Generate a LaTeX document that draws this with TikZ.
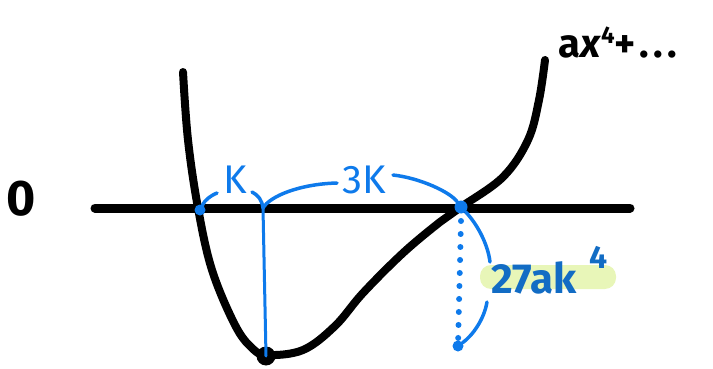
\documentclass[tikz,border=0pt]{standalone}
\usepackage{fontspec}
\setmainfont{Fira Sans}
\definecolor{pen}{RGB}{14,122,235}
\definecolor{pendark}{RGB}{18,108,196}
\definecolor{hilite}{RGB}{232,246,184}
\begin{document}
\begin{tikzpicture}[x=1pt,y=-1pt,
  ink/.style={line width=8pt,line cap=round,line join=round,black},
  blueline/.style={line width=3.5pt,line cap=round,pen},
  bluedot/.style={circle,fill=pen,inner sep=0pt,minimum size=#1},
  lbl/.style={inner sep=0pt,text=pen,font=\fontsize{40}{40}\selectfont}]
\useasboundingbox (0,0) rectangle (713,369);
% axis
\coordinate (axL) at (95,208);
\coordinate (axR) at (630,208);
\draw[ink,line width=9pt] (axL) -- (axR);
\node[inner sep=0pt,font=\fontsize{50}{50}\selectfont\bfseries] (zero) at (21,199) {0};
% curve
\draw[ink] plot[smooth,tension=0.6] coordinates {(183,72) (188,140) (198,208) (212,270) (235,325) (252,348) (267,355) (303,350) (335,326) (363,293) (403,253) (440,222) (461,207) (503,177) (528,140) (539,100) (545,60)};
\node[circle,fill=black,inner sep=0pt,minimum size=19pt] (minpt) at (266,356) {};
% blue dots
\node[bluedot=11pt] (r1) at (200,210) {};
\node[bluedot=13pt] (r2) at (461,207) {};
\node[bluedot=11pt] (low) at (458,346) {};
\coordinate (mid) at (263,208);
% vertical line
\draw[blueline,line width=3pt] (mid) -- (minpt.center);
% labels
\node[lbl] (k) at (235,180) {K};
\node[lbl] (k3) at (364,180) {3K};
% brace
\draw[blueline] (r1) .. controls (205,200) and (210,196) .. (217,193);
\draw[blueline] (252,192) .. controls (258,195) and (262,200) .. (mid);
\draw[blueline] (mid) .. controls (270,196) and (300,184) .. (337,183);
\draw[blueline] (393,175) .. controls (420,178) and (450,192) .. (r2);
% dotted vertical
\draw[pen,line width=6pt,line cap=round,dash pattern=on 0pt off 13pt] (r2) ++(0,14) -- (low);
% right arc
\draw[blueline] (r2) .. controls (478,225) and (488,245) .. (490,262);
\draw[blueline] (487,302) .. controls (484,320) and (472,336) .. (low);
% highlight and label
\node[fill=hilite,rounded corners=11pt,minimum width=136pt,minimum height=24pt,inner sep=0pt] (hl) at (548,277) {};
\node[inner sep=0pt,text=pendark,font=\fontsize{42}{42}\selectfont\bfseries,anchor=base west] (val) at (491,293) {27ak};
\node[inner sep=0pt,text=pendark,font=\fontsize{32}{32}\selectfont\bfseries,anchor=base west] (exp) at (589,268) {4};
% top right
\node[inner sep=0pt,font=\fontsize{40}{40}\selectfont\bfseries,anchor=base west] (poly) at (558,58) {a\textit{x}\raisebox{14pt}{\fontsize{24}{24}\selectfont 4}+\hspace{4pt}.\hspace{4pt}.\hspace{4pt}.};
\end{tikzpicture}
\end{document}
